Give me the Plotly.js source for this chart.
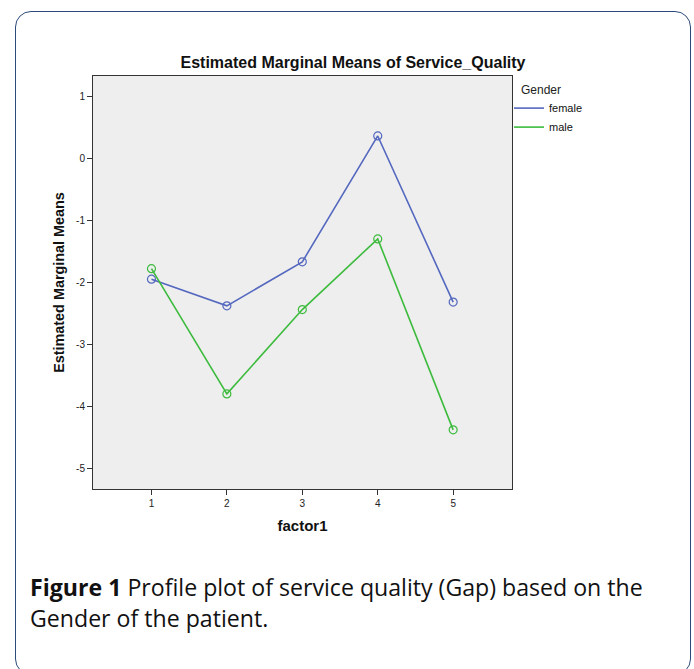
<!DOCTYPE html>
<html>
<head>
<meta charset="utf-8">
<script src="https://cdn.plot.ly/plotly-3.0.1.min.js"></script>
<style>
  html, body { margin: 0; padding: 0; background: #ffffff; }
  body { width: 694px; height: 669px; position: relative; overflow: hidden; }
  #frame { position: absolute; left: 15px; top: 11px; width: 676px; height: 664px;
           border: 1.5px solid #2b4a7a; border-radius: 16px; box-sizing: border-box; }
  #chart { position: absolute; left: 0; top: 0; width: 694px; height: 669px; }
  #caption { position: absolute; left: 30px; top: 572px; width: 660px; white-space: nowrap;
             font-family: "Open Sans", sans-serif; font-size: 20px; line-height: 31px; color: #111; }
  #caption b { font-weight: 700; }
</style>
</head>
<body>
<div id="frame"></div>
<div id="chart"></div>
<div id="caption"><span id="line1"><b>Figure 1</b> Profile plot of service quality (Gap) based on the</span><br><span id="line2">Gender of the patient.</span></div>
<script>
const factorLevels = [1, 2, 3, 4, 5];
const femaleMeans = [-1.95, -2.38, -1.67, 0.36, -2.32];
const maleMeans = [-1.78, -3.80, -2.44, -1.30, -4.38];
const yTicks = [1, 0, -1, -2, -3, -4, -5];
const seriesNames = ["female", "male"];
const seriesColors = ["#5468bf", "#3dbb3d"];
const seriesValues = [femaleMeans, maleMeans];

// fit caption first line to the reference width
(function () {
  const l1 = document.getElementById("line1");
  const w = l1.getBoundingClientRect().width;
  const target = 613;
  const cap = document.getElementById("caption");
  cap.style.fontSize = (20 * target / w).toFixed(2) + "px";
})();

const traces = [];
seriesNames.forEach(function (name, i) {
  traces.push({
    x: factorLevels, y: seriesValues[i], name: name, legendgroup: name,
    type: "scatter", mode: "lines",
    line: { color: seriesColors[i], width: 1.6 }
  });
  traces.push({
    x: factorLevels, y: seriesValues[i], name: name, legendgroup: name, showlegend: false,
    type: "scatter", mode: "markers",
    marker: { symbol: "circle-open", size: 8, color: seriesColors[i], line: { width: 1.2 } }
  });
});

const fam = "Liberation Sans, Arial, sans-serif";
const axisFont = { family: fam, size: 10, color: "#222" };

const layout = {
  width: 694, height: 669,
  paper_bgcolor: "rgba(0,0,0,0)",
  plot_bgcolor: "#eeeeee",
  margin: { l: 93, r: 182, t: 76, b: 180, pad: 0 },
  showlegend: true,
  title: {
    text: "<b>Estimated Marginal Means of Service_Quality</b>",
    font: { family: fam, size: 16, color: "#111" },
    x: 353 / 694, xref: "container", xanchor: "center",
    y: 1 - 62 / 669, yref: "container", yanchor: "middle"
  },
  xaxis: {
    range: [0.225, 5.78], tickvals: factorLevels, ticktext: factorLevels.map(String),
    ticks: "outside", ticklen: 5, tickcolor: "#333", tickwidth: 1,
    showgrid: false, zeroline: false, showline: true, linecolor: "#333", linewidth: 1, mirror: true,
    tickfont: axisFont,
    title: { text: "<b>factor1</b>", font: { family: fam, size: 15, color: "#111" }, standoff: 12 }
  },
  yaxis: {
    range: [-5.334, 1.327], tickvals: yTicks, ticktext: yTicks.map(String),
    ticks: "outside", ticklen: 5, tickcolor: "#333", tickwidth: 1,
    showgrid: false, zeroline: false, showline: true, linecolor: "#333", linewidth: 1, mirror: true,
    tickfont: axisFont,
    title: { text: "<b>Estimated Marginal Means</b>", font: { family: fam, size: 14.4, color: "#111" }, standoff: 8 }
  },
  legend: {
    x: 1 - 3 / 419, xanchor: "left", y: 1 - (78 - 76) / 413, yanchor: "top",
    bgcolor: "rgba(0,0,0,0)", borderwidth: 0,
    font: { family: fam, size: 11, color: "#111" },
    title: { text: "&nbsp;&nbsp;&nbsp;Gender", font: { family: fam, size: 12, color: "#222" } },
    tracegroupgap: 0, itemwidth: 30
  }
};

Plotly.newPlot("chart", traces, layout, { displayModeBar: false, staticPlot: true });
</script>
</body>
</html>
